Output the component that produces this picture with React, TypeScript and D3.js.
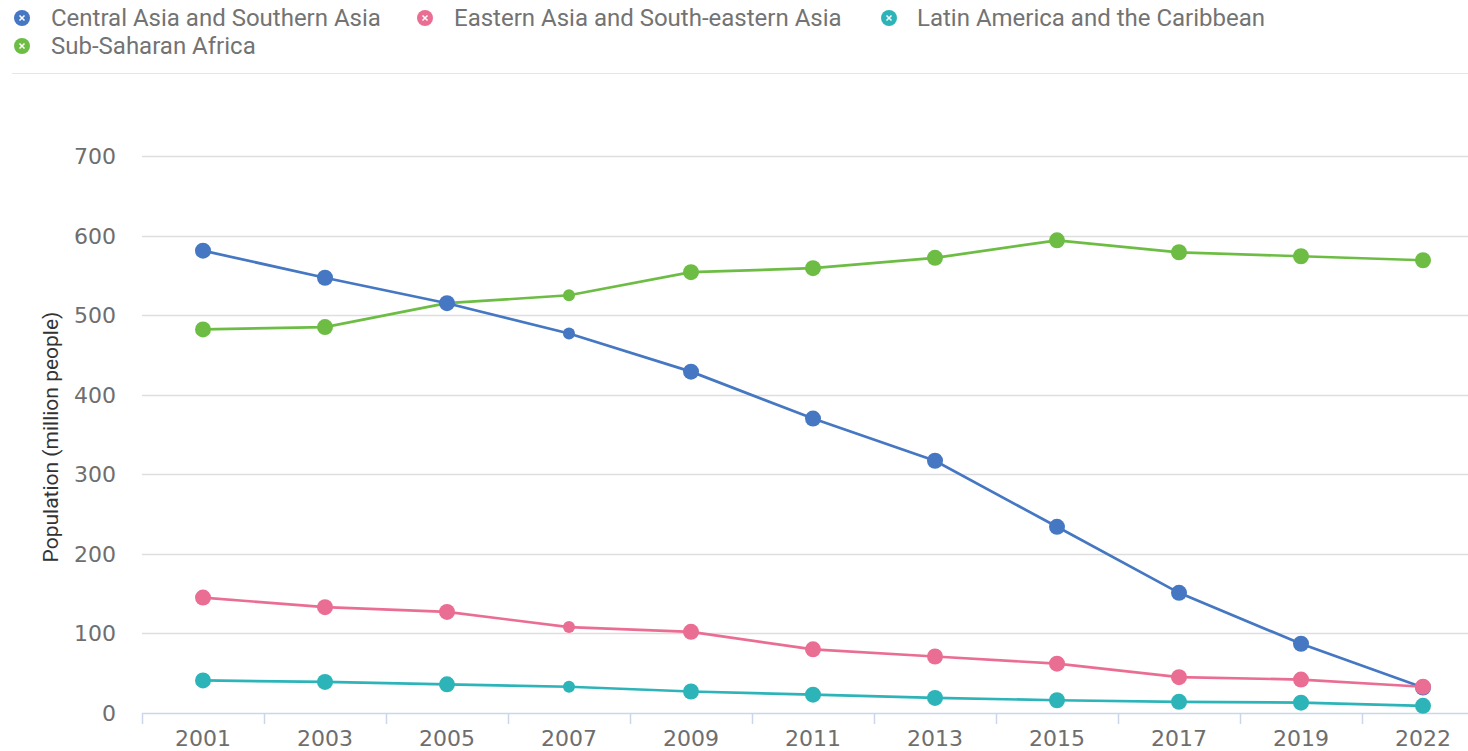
import React from "react";
import * as d3 from "d3";

const years = ["2001", "2003", "2005", "2007", "2009", "2011", "2013", "2015", "2017", "2019", "2022"];
const centralSouthernAsia = [581, 547, 515, 477, 429, 370, 317, 234, 151, 87, 32];
const easternSouthEasternAsia = [145, 133, 127, 108, 102, 80, 71, 62, 45, 42, 33];
const latinAmericaCaribbean = [41, 39, 36, 33, 27, 23, 19, 16, 14, 13, 9];
const subSaharanAfrica = [482, 485, 515, 525, 554, 559, 572, 594, 579, 574, 569];
const yTicks = [0, 100, 200, 300, 400, 500, 600, 700];

const seriesNames = [
  "Central Asia and Southern Asia",
  "Eastern Asia and South-eastern Asia",
  "Latin America and the Caribbean",
  "Sub-Saharan Africa",
];
const seriesColors = ["#4577c2", "#ea6e93", "#2db4b9", "#6dbd45"];
const seriesValues = [centralSouthernAsia, easternSouthEasternAsia, latinAmericaCaribbean, subSaharanAfrica];
const drawOrder = [3, 0, 1, 2];

const W = 1468;
const H = 751;
const plotLeft = 142;
const bandW = 122;
const plotTop = 156;
const plotBottom = 713;

export default function App() {
  const x = d3
    .scaleBand<string>()
    .domain(years)
    .range([plotLeft, plotLeft + bandW * years.length])
    .paddingInner(0)
    .paddingOuter(0);
  const y = d3.scaleLinear().domain([0, 700]).range([plotBottom, plotTop]);
  const cx = (yr: string) => (x(yr) as number) + x.bandwidth() / 2;

  const line = d3
    .line<number>()
    .x((_, i) => cx(years[i]))
    .y((v) => y(v));

  const tickFont = "'DejaVu Sans', sans-serif";
  const legendFont = "Roboto, sans-serif";

  const legendItems = [
    { i: 0, mx: 22, tx: 51, yy: 18 },
    { i: 1, mx: 425, tx: 454, yy: 18 },
    { i: 2, mx: 889, tx: 917, yy: 18 },
    { i: 3, mx: 22, tx: 51, yy: 46 },
  ];

  const smallR = (si: number, yi: number) => years[yi] === "2007" || (si === 3 && years[yi] === "2005");

  return (
    <svg
      width={W}
      height={H}
      style={{ position: "absolute", left: 0, top: 0, background: "#fff" }}
    >
      {/* legend */}
      {legendItems.map((l) => (
        <g key={l.i}>
          <circle cx={l.mx} cy={l.yy} r={8} fill={seriesColors[l.i]} />
          <path
            d={`M${l.mx - 2.5},${l.yy - 2.5}L${l.mx + 2.5},${l.yy + 2.5}M${l.mx + 2.5},${l.yy - 2.5}L${l.mx - 2.5},${l.yy + 2.5}`}
            stroke="#fff"
            strokeWidth={1.5}
          />
          <text
            x={l.tx}
            y={l.yy + 8}
            fontFamily={legendFont}
            fontSize={24}
            fill="#737373"
          >
            {seriesNames[l.i]}
          </text>
        </g>
      ))}
      <line x1={12} x2={W} y1={73.5} y2={73.5} stroke="#e6e6e6" strokeWidth={1} />

      {/* gridlines */}
      {yTicks.filter((t) => t > 0).map((t) => (
        <line key={t} x1={plotLeft} x2={W} y1={Math.round(y(t)) + 0.5} y2={Math.round(y(t)) + 0.5} stroke="#dedede" strokeWidth={1.5} />
      ))}
      {/* y labels */}
      {yTicks.map((t) => (
        <text
          key={t}
          x={116}
          y={y(t) + 8}
          textAnchor="end"
          fontFamily={tickFont}
          fontSize={22}
          fill="#6e6e6e"
        >
          {t}
        </text>
      ))}
      {/* y title */}
      <text
        transform={`translate(58,437) rotate(-90)`}
        textAnchor="middle"
        fontFamily={legendFont}
        fontSize={21}
        fill="#333"
      >
        Population (million people)
      </text>

      {/* x axis */}
      <line x1={plotLeft} x2={W} y1={plotBottom + 0.5} y2={plotBottom + 0.5} stroke="#ccd6eb" strokeWidth={1.5} />
      {years.map((yr) => (
        <line
          key={"t" + yr}
          x1={(x(yr) as number) + 0.5}
          x2={(x(yr) as number) + 0.5}
          y1={plotBottom}
          y2={plotBottom + 11}
          stroke="#ccd6eb"
          strokeWidth={1.5}
        />
      ))}
      {years.map((yr) => (
        <text
          key={"l" + yr}
          x={cx(yr)}
          y={746}
          textAnchor="middle"
          fontFamily={tickFont}
          fontSize={22}
          fill="#6e6e6e"
        >
          {yr}
        </text>
      ))}

      {/* series */}
      {drawOrder.map((si) => (
        <g key={si}>
          <path d={line(seriesValues[si]) || ""} fill="none" stroke={seriesColors[si]} strokeWidth={2.7} />
          {seriesValues[si].map((v, yi) => (
            <circle
              key={yi}
              cx={cx(years[yi])}
              cy={y(v)}
              r={smallR(si, yi) ? 6 : 8}
              fill={seriesColors[si]}
            />
          ))}
        </g>
      ))}
    </svg>
  );
}
